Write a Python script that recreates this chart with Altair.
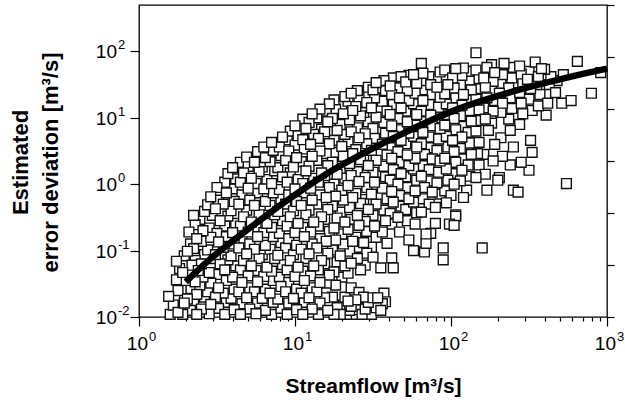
import altair as alt
import numpy as np
import pandas as pd

# ---- values, stored as (log10 streamflow, log10 error) ----
left_mass = [
    (0.20,-1.96),(0.22,-1.82),(0.19,-1.69),
    (0.25,-1.93),(0.23,-1.75),(0.25,-1.60),(0.24,-1.44),(0.26,-1.27),(0.24,-1.16),
    (0.28,-1.96),(0.29,-1.79),(0.27,-1.58),(0.30,-1.45),(0.28,-1.33),(0.29,-1.08),
    (0.33,-1.90),(0.31,-1.73),(0.33,-1.57),(0.32,-1.36),(0.34,-1.22),(0.31,-1.01),(0.33,-0.90),(0.32,-0.72),
    (0.37,-1.96),(0.35,-1.78),(0.37,-1.66),(0.36,-1.47),(0.38,-1.30),(0.36,-1.15),(0.35,-0.97),(0.37,-0.82),(0.36,-0.61),(0.35,-0.47),
    (0.40,-1.88),(0.42,-1.70),(0.39,-1.52),(0.41,-1.40),(0.40,-1.20),(0.42,-1.06),(0.40,-0.86),(0.41,-0.70),(0.39,-0.53),(0.42,-0.41),
    (0.45,-1.95),(0.46,-1.81),(0.44,-1.62),(0.46,-1.49),(0.45,-1.33),(0.47,-1.12),(0.44,-0.99),(0.46,-0.80),(0.45,-0.66),(0.47,-0.47),(0.44,-0.31),(0.46,-0.19),
    (0.51,-1.87),(0.49,-1.70),(0.51,-1.56),(0.50,-1.36),(0.52,-1.20),(0.49,-1.06),(0.51,-0.87),(0.50,-0.74),(0.52,-0.55),(0.49,-0.37),(0.51,-0.24),(0.50,-0.05),
    (0.55,-1.96),(0.56,-1.78),(0.54,-1.64),(0.56,-1.45),(0.55,-1.29),(0.57,-1.14),(0.54,-0.95),(0.56,-0.79),(0.55,-0.63),(0.57,-0.48),(0.54,-0.30),(0.56,-0.13),(0.55,0.03),(0.57,0.16),
    (0.61,-1.89),(0.59,-1.72),(0.61,-1.58),(0.60,-1.40),(0.62,-1.23),(0.59,-1.08),(0.61,-0.90),(0.60,-0.73),(0.62,-0.59),(0.59,-0.40),(0.61,-0.26),(0.60,-0.07),(0.62,0.08),(0.60,0.25),
    (0.65,-1.96),(0.66,-1.80),(0.64,-1.62),(0.66,-1.48),(0.65,-1.29),(0.67,-1.15),(0.64,-0.96),(0.66,-0.82),(0.65,-0.63),(0.67,-0.49),(0.64,-0.30),(0.66,-0.16),(0.65,0.03),(0.67,0.17),(0.65,0.33),
    (0.71,-1.88),(0.69,-1.71),(0.71,-1.56),(0.70,-1.38),(0.72,-1.23),(0.69,-1.05),(0.71,-0.90),(0.70,-0.72),(0.72,-0.57),(0.69,-0.39),(0.71,-0.24),(0.70,-0.06),(0.72,0.09),(0.70,0.27),(0.69,0.41),
    (0.75,-1.95),(0.76,-1.79),(0.74,-1.62),(0.76,-1.47),(0.75,-1.30),(0.77,-1.12),(0.74,-0.98),(0.76,-0.79),(0.75,-0.65),(0.77,-0.46),(0.74,-0.32),(0.76,-0.13),(0.75,0.01),(0.77,0.19),(0.74,0.33),(0.76,0.49),
    (0.81,-1.90),(0.79,-1.72),(0.81,-1.58),(0.80,-1.39),(0.82,-1.25),(0.79,-1.06),(0.81,-0.92),(0.80,-0.73),(0.82,-0.59),(0.79,-0.40),(0.81,-0.26),(0.80,-0.07),(0.82,0.07),(0.79,0.26),(0.81,0.40),(0.80,0.56),
    (0.85,-1.96),(0.86,-1.78),(0.84,-1.64),(0.86,-1.45),(0.85,-1.31),(0.87,-1.12),(0.84,-0.98),(0.86,-0.79),(0.85,-0.65),(0.87,-0.46),(0.84,-0.32),(0.86,-0.13),(0.85,0.01),(0.87,0.20),(0.84,0.34),(0.86,0.51),(0.85,0.63),
    (0.91,-1.87),(0.89,-1.73),(0.91,-1.54),(0.90,-1.40),(0.92,-1.21),(0.89,-1.07),(0.91,-0.88),(0.90,-0.74),(0.92,-0.55),(0.89,-0.41),(0.91,-0.22),(0.90,-0.08),(0.92,0.11),(0.89,0.25),(0.91,0.43),(0.90,0.56),(0.92,0.71),
    (0.95,-1.96),(0.96,-1.79),(0.94,-1.62),(0.96,-1.48),(0.95,-1.29),(0.97,-1.15),(0.94,-0.96),(0.96,-0.82),(0.95,-0.63),(0.97,-0.49),(0.94,-0.30),(0.96,-0.16),(0.95,0.03),(0.97,0.17),(0.94,0.36),(0.96,0.50),(0.95,0.67),(0.97,0.80),
]

middle_mass = [
    (1.01,-1.89),(0.99,-1.72),(1.01,-1.58),(1.00,-1.39),(1.02,-1.25),(0.99,-1.06),(1.01,-0.92),(1.00,-0.73),(1.02,-0.59),(0.99,-0.40),(1.01,-0.26),(1.00,-0.07),(1.02,0.07),(0.99,0.26),(1.01,0.40),(1.00,0.59),(1.02,0.73),(1.00,0.88),
    (1.05,-1.96),(1.06,-1.78),(1.04,-1.64),(1.06,-1.45),(1.05,-1.31),(1.07,-1.12),(1.04,-0.98),(1.06,-0.79),(1.05,-0.65),(1.07,-0.46),(1.04,-0.32),(1.06,-0.13),(1.05,0.01),(1.07,0.20),(1.04,0.34),(1.06,0.53),(1.05,0.67),(1.07,0.84),(1.05,0.98),
    (1.11,-1.88),(1.09,-1.71),(1.11,-1.56),(1.10,-1.38),(1.12,-1.23),(1.09,-1.05),(1.11,-0.90),(1.10,-0.72),(1.12,-0.57),(1.09,-0.39),(1.11,-0.24),(1.10,-0.06),(1.12,0.09),(1.09,0.27),(1.11,0.42),(1.10,0.60),(1.12,0.75),(1.09,0.93),(1.11,1.06),
    (1.15,-1.96),(1.16,-1.79),(1.14,-1.62),(1.16,-1.48),(1.15,-1.29),(1.17,-1.15),(1.14,-0.96),(1.16,-0.82),(1.15,-0.63),(1.17,-0.49),(1.14,-0.30),(1.16,-0.16),(1.15,0.03),(1.17,0.17),(1.14,0.36),(1.16,0.50),(1.15,0.69),(1.17,0.83),(1.14,1.00),(1.16,1.13),
    (1.21,-1.90),(1.19,-1.71),(1.20,-1.49),(1.22,-1.37),(1.19,-1.20),(1.21,-1.04),(1.20,-0.86),(1.22,-0.71),(1.19,-0.53),(1.21,-0.38),(1.20,-0.20),(1.22,-0.05),(1.19,0.13),(1.21,0.28),(1.20,0.46),(1.22,0.61),(1.19,0.79),(1.21,0.94),(1.20,1.10),(1.22,1.21),
    (1.25,-1.96),(1.24,-1.70),(1.26,-1.52),(1.25,-1.32),(1.27,-1.17),(1.24,-0.99),(1.26,-0.84),(1.25,-0.66),(1.27,-0.51),(1.24,-0.33),(1.26,-0.18),(1.25,0.00),(1.27,0.15),(1.24,0.33),(1.26,0.48),(1.25,0.66),(1.27,0.81),(1.24,0.99),(1.26,1.13),(1.25,1.27),
    (1.29,-1.96),(1.31,-1.82),(1.30,-1.40),(1.32,-1.23),(1.29,-1.08),(1.31,-0.90),(1.30,-0.75),(1.32,-0.57),(1.29,-0.42),(1.31,-0.24),(1.30,-0.09),(1.32,0.09),(1.29,0.24),(1.31,0.42),(1.30,0.57),(1.32,0.75),(1.29,0.90),(1.31,1.06),(1.30,1.20),(1.32,1.32),
    (1.35,-1.90),(1.34,-1.76),(1.36,-1.56),(1.34,-1.34),(1.36,-1.19),(1.35,-1.01),(1.37,-0.86),(1.34,-0.68),(1.36,-0.53),(1.35,-0.35),(1.37,-0.20),(1.34,-0.02),(1.36,0.13),(1.35,0.31),(1.37,0.46),(1.34,0.64),(1.36,0.79),(1.35,0.97),(1.37,1.11),(1.34,1.25),(1.36,1.37),
    (1.39,-1.74),(1.41,-1.89),(1.42,-1.29),(1.40,-1.12),(1.41,-0.95),(1.39,-0.80),(1.41,-0.62),(1.40,-0.47),(1.42,-0.29),(1.39,-0.14),(1.41,0.04),(1.40,0.19),(1.42,0.37),(1.39,0.52),(1.41,0.70),(1.40,0.85),(1.42,1.03),(1.39,1.17),(1.41,1.31),(1.40,1.41),
    (1.44,-1.70),(1.46,-1.86),(1.45,-1.22),(1.46,-1.04),(1.44,-0.88),(1.46,-0.71),(1.45,-0.56),(1.47,-0.38),(1.44,-0.23),(1.46,-0.05),(1.45,0.10),(1.47,0.28),(1.44,0.43),(1.46,0.61),(1.45,0.76),(1.47,0.94),(1.44,1.08),(1.46,1.23),(1.45,1.35),(1.47,1.46),
    (1.52,-1.86),(1.53,-1.71),(1.49,-1.96),(1.55,-1.26),(1.50,-1.10),(1.49,-0.95),(1.52,-0.80),(1.51,-0.63),(1.50,-0.47),(1.52,-0.30),(1.49,-0.15),(1.51,0.03),(1.50,0.18),(1.52,0.36),(1.49,0.51),(1.51,0.69),(1.50,0.84),(1.52,1.01),(1.49,1.15),(1.51,1.30),(1.50,1.42),(1.52,1.53),
    (1.57,-1.64),(1.56,-1.80),(1.63,-1.26),(1.62,-1.11),(1.59,-0.89),(1.56,-0.72),(1.58,-0.55),(1.57,-0.39),(1.59,-0.22),(1.56,-0.06),(1.58,0.11),(1.57,0.27),(1.59,0.44),(1.56,0.60),(1.58,0.77),(1.57,0.93),(1.59,1.10),(1.56,1.25),(1.58,1.41),(1.57,1.56),
    (1.62,-0.60),(1.61,-0.44),(1.63,-0.27),(1.62,-0.11),(1.61,0.06),(1.63,0.22),(1.62,0.39),(1.61,0.55),(1.63,0.72),(1.62,0.88),(1.61,1.05),(1.63,1.20),(1.62,1.35),(1.61,1.48),(1.63,1.60),
]

right_mass = [
    (1.67,-0.72),(1.66,-0.50),(1.68,-0.33),(1.67,-0.17),(1.66,0.00),(1.68,0.16),(1.67,0.33),(1.66,0.49),(1.68,0.66),(1.67,0.82),(1.66,0.99),(1.68,1.15),(1.67,1.30),(1.66,1.45),(1.68,1.62),
    (1.73,-0.84),(1.72,-0.55),(1.71,-0.38),(1.73,-0.22),(1.72,-0.05),(1.71,0.11),(1.73,0.28),(1.72,0.44),(1.71,0.61),(1.73,0.77),(1.72,0.94),(1.71,1.10),(1.73,1.26),(1.72,1.41),(1.71,1.54),(1.73,1.64),
    (1.76,-1.00),(1.77,-0.60),(1.78,-0.43),(1.76,-0.27),(1.77,-0.10),(1.78,0.06),(1.76,0.23),(1.77,0.39),(1.78,0.56),(1.76,0.72),(1.77,0.89),(1.78,1.05),(1.76,1.21),(1.77,1.37),(1.78,1.52),(1.76,1.65),
    (1.83,-1.02),(1.84,-0.89),(1.81,-0.42),(1.82,-0.22),(1.83,-0.05),(1.81,0.12),(1.82,0.28),(1.83,0.45),(1.81,0.61),(1.82,0.78),(1.83,0.94),(1.81,1.10),(1.82,1.26),(1.83,1.42),(1.81,1.56),(1.82,1.67),(1.81,1.82),
    (1.87,-0.74),(1.86,-0.30),(1.88,-0.12),(1.87,0.05),(1.86,0.22),(1.88,0.38),(1.87,0.55),(1.86,0.71),(1.88,0.88),(1.87,1.04),(1.86,1.20),(1.88,1.35),(1.87,1.50),(1.86,1.62),
    (1.90,-0.59),(1.90,-0.35),(1.93,-0.15),(1.91,0.02),(1.92,0.18),(1.93,0.35),(1.91,0.51),(1.92,0.68),(1.93,0.84),(1.91,1.00),(1.92,1.16),(1.93,1.31),(1.91,1.46),(1.92,1.58),(1.93,1.69),
    (1.95,-0.96),(1.95,-1.14),(1.99,-0.60),(1.97,-0.28),(1.96,-0.10),(1.98,0.06),(1.97,0.23),(1.96,0.39),(1.98,0.56),(1.97,0.72),(1.96,0.89),(1.98,1.05),(1.97,1.21),(1.96,1.36),(1.98,1.50),(1.97,1.62),(1.96,1.72),
    (2.02,-0.62),(2.03,-0.46),(2.00,-0.17),(2.02,0.00),(2.01,0.16),(2.03,0.33),(2.02,0.49),(2.01,0.66),(2.03,0.82),(2.02,0.99),(2.01,1.15),(2.03,1.30),(2.02,1.45),(2.01,1.60),(2.03,1.74),
    (2.08,-0.20),(2.06,0.05),(2.07,0.21),(2.08,0.38),(2.06,0.54),(2.07,0.71),(2.08,0.87),(2.06,1.03),(2.07,1.19),(2.08,1.35),(2.06,1.50),(2.07,1.64),(2.08,1.75),
    (2.10,-0.09),(2.12,0.12),(2.11,0.29),(2.13,0.45),(2.12,0.62),(2.11,0.78),(2.13,0.95),(2.12,1.11),(2.11,1.27),(2.13,1.42),(2.12,1.57),(2.11,1.70),
    (2.18,0.29),(2.16,0.10),(2.17,0.46),(2.18,0.63),(2.16,0.80),(2.17,0.96),(2.18,1.12),(2.16,1.28),(2.17,1.44),(2.18,1.59),(2.16,1.72),
    (2.22,0.15),(2.21,0.45),(2.24,0.81),(2.22,0.98),(2.21,1.15),(2.23,1.30),(2.22,1.46),(2.21,1.60),(2.23,1.76),
    (2.30,0.06),(2.27,0.35),(2.28,0.60),(2.26,0.92),(2.27,1.10),(2.28,1.26),(2.26,1.40),(2.27,1.55),(2.28,1.68),(2.26,1.80),
    (2.31,0.10),(2.33,0.42),(2.32,0.70),(2.32,1.08),(2.33,1.22),(2.31,1.37),(2.32,1.52),(2.33,1.65),(2.34,1.82),
    (2.38,0.29),(2.40,0.56),(2.38,0.81),(2.37,0.98),(2.39,1.14),(2.38,1.30),(2.37,1.45),(2.39,1.60),(2.40,1.76),
    (2.45,0.33),(2.44,0.90),(2.46,1.06),(2.45,1.22),(2.44,1.38),(2.46,1.52),(2.45,1.66),(2.44,1.78),
    (2.50,0.21),(2.51,0.66),(2.52,0.48),(2.52,1.11),(2.50,1.28),(2.51,1.44),(2.49,1.58),(2.50,1.70),(2.54,1.84),
    (2.56,1.18),(2.57,1.35),(2.55,1.50),(2.56,1.62),(2.58,1.74),(2.61,1.04),(2.60,1.73),
    (2.62,1.22),(2.63,1.50),(2.64,1.62),(2.67,1.38),(2.68,1.56),(2.71,1.22),(2.72,1.65),(2.77,1.26),
]

bottom_tail = [
    (1.27,-1.86),(1.33,-1.96),(1.36,-1.84),(1.38,-1.96),(1.43,-1.96),(1.47,-1.78),
    (1.55,-1.90),(1.58,-1.77),(1.41,-1.63),(1.50,-1.71),(1.32,-1.70),(1.45,-1.88),
]

scattered = [
    (2.20,-0.96),(2.23,-0.09),(2.40,-0.09),(2.43,-0.12),(2.16,1.98),
    (2.74,0.01),(2.81,1.85),(2.90,1.37),(2.96,1.68),(2.03,-0.48),(1.84,-0.75),
]

# fitted curve (log10 units)
curve_log_flow = [0.30, 0.45, 0.62, 0.80, 0.94, 1.10, 1.24, 1.45, 1.67, 2.03, 2.30, 2.48, 2.75, 3.00]
curve_log_err = [-1.47, -1.14, -0.82, -0.50, -0.26, 0.00, 0.21, 0.48, 0.74, 1.12, 1.33, 1.45, 1.61, 1.74]

# axis ticks and their labels (base "10" with a raised exponent)
x_ticks = [1, 2, 3, 4, 5, 6, 7, 8, 9, 10, 20, 30, 40, 50, 60, 70, 80, 90,
           100, 200, 300, 400, 500, 600, 700, 800, 900, 1000]
x_label_values = [1, 10, 100, 1000]
x_label_exponents = ["0", "1", "2", "3"]
y_ticks = [0.01, 0.1, 1, 10, 100]
y_label_exponents = ["-2", "-1", "0", "1", "2"]
right_ticks = [0, 1, 2, 3, 4, 5, 6]

# ---- tables ----
pairs = left_mass + middle_mass + right_mass + bottom_tail + scattered
pts = pd.DataFrame(pairs, columns=["lq", "le"])
pts["Streamflow"] = 10 ** pts["lq"]
pts["Error"] = 10 ** pts["le"]
n = len(pts)
pts["draw_order"] = (np.arange(n) * 211) % n

curve = pd.DataFrame({
    "Streamflow": 10 ** np.array(curve_log_flow),
    "Error": 10 ** np.array(curve_log_err),
})
xlab = pd.DataFrame({"Streamflow": x_label_values, "base": "10", "exp": x_label_exponents})
ylab = pd.DataFrame({"Error": y_ticks, "base": "10", "exp": y_label_exponents})

FONT = "Liberation Sans"
PLOT_H = 312

x_scale = alt.Scale(type="log", domain=[1, 1000], nice=False)
y_scale = alt.Scale(type="log", domain=[0.01, 500], nice=False)

x_enc = alt.X(
    "Streamflow:Q", scale=x_scale,
    axis=alt.Axis(
        values=x_ticks, labels=False,
        tickSize={"condition": {"test": "datum.value == 1 || datum.value == 10 || datum.value == 100 || datum.value == 1000", "value": 9}, "value": 4},
        domain=False, grid=False,
        title="Streamflow [m³/s]", titleFontSize=21, titleFontWeight="bold",
        titleY=75, titleBaseline="alphabetic",
    ),
)
y_enc = alt.Y(
    "Error:Q", scale=y_scale,
    axis=alt.Axis(
        values=y_ticks, labels=False, tickSize=9, domain=False, grid=False,
        title=["Estimated", "error deviation [m³/s]"], titleFontSize=22,
        titleFontWeight="bold", titleAngle=270, titleX=-129, titleY=157,
        titleAlign="center", titleBaseline="top", titleLineHeight=30,
    ),
)

points = alt.Chart(pts).mark_square(
    size=96, filled=True, fill="white", stroke="#111111", strokeWidth=1.4, opacity=1
).encode(x=x_enc, y=y_enc, order=alt.Order("draw_order:Q"))

fit = alt.Chart(curve).mark_line(
    color="black", strokeWidth=6.5, interpolate="monotone"
).encode(x="Streamflow:Q", y="Error:Q")

x_base = alt.Chart(xlab).mark_text(
    font=FONT, fontSize=19, align="right", baseline="alphabetic", dx=9, color="black"
).encode(x="Streamflow:Q", y=alt.value(PLOT_H + 33), text="base:N")
x_exp = alt.Chart(xlab).mark_text(
    font=FONT, fontSize=13, align="left", baseline="alphabetic", dx=10, color="black"
).encode(x="Streamflow:Q", y=alt.value(PLOT_H + 24), text="exp:N")

y_base = alt.Chart(ylab).mark_text(
    font=FONT, fontSize=19, align="right", baseline="alphabetic", dy=7, color="black"
).encode(y="Error:Q", x=alt.value(-22), text="base:N")
y_exp = alt.Chart(ylab).mark_text(
    font=FONT, fontSize=13, align="left", baseline="alphabetic", dy=-2, color="black"
).encode(y="Error:Q", x=alt.value(-21), text="exp:N")

right_axis = alt.Chart(pd.DataFrame({"r": [0, 6]})).mark_point(opacity=0).encode(
    y=alt.Y("r:Q", scale=alt.Scale(domain=[0, 6], nice=False),
            axis=alt.Axis(orient="right", values=right_ticks, labels=False,
                          tickSize=7, domain=False, grid=False, title=None))
)

main = alt.layer(points, fit, x_base, x_exp, y_base, y_exp)

chart = alt.layer(main, right_axis).resolve_scale(
    y="independent"
).properties(
    width=468, height=PLOT_H,
    autosize=alt.AutoSizeParams(type="none"),
    padding={"left": 139, "top": 5, "right": 18, "bottom": 89},
    background="white",
).configure_view(
    stroke="black", strokeWidth=1.3
).configure_axis(
    labelFont=FONT, titleFont=FONT, labelColor="black", titleColor="black",
    tickColor="black", tickWidth=1.2,
)

chart.save("out.html", embed_options={"renderer": "svg", "actions": False})
